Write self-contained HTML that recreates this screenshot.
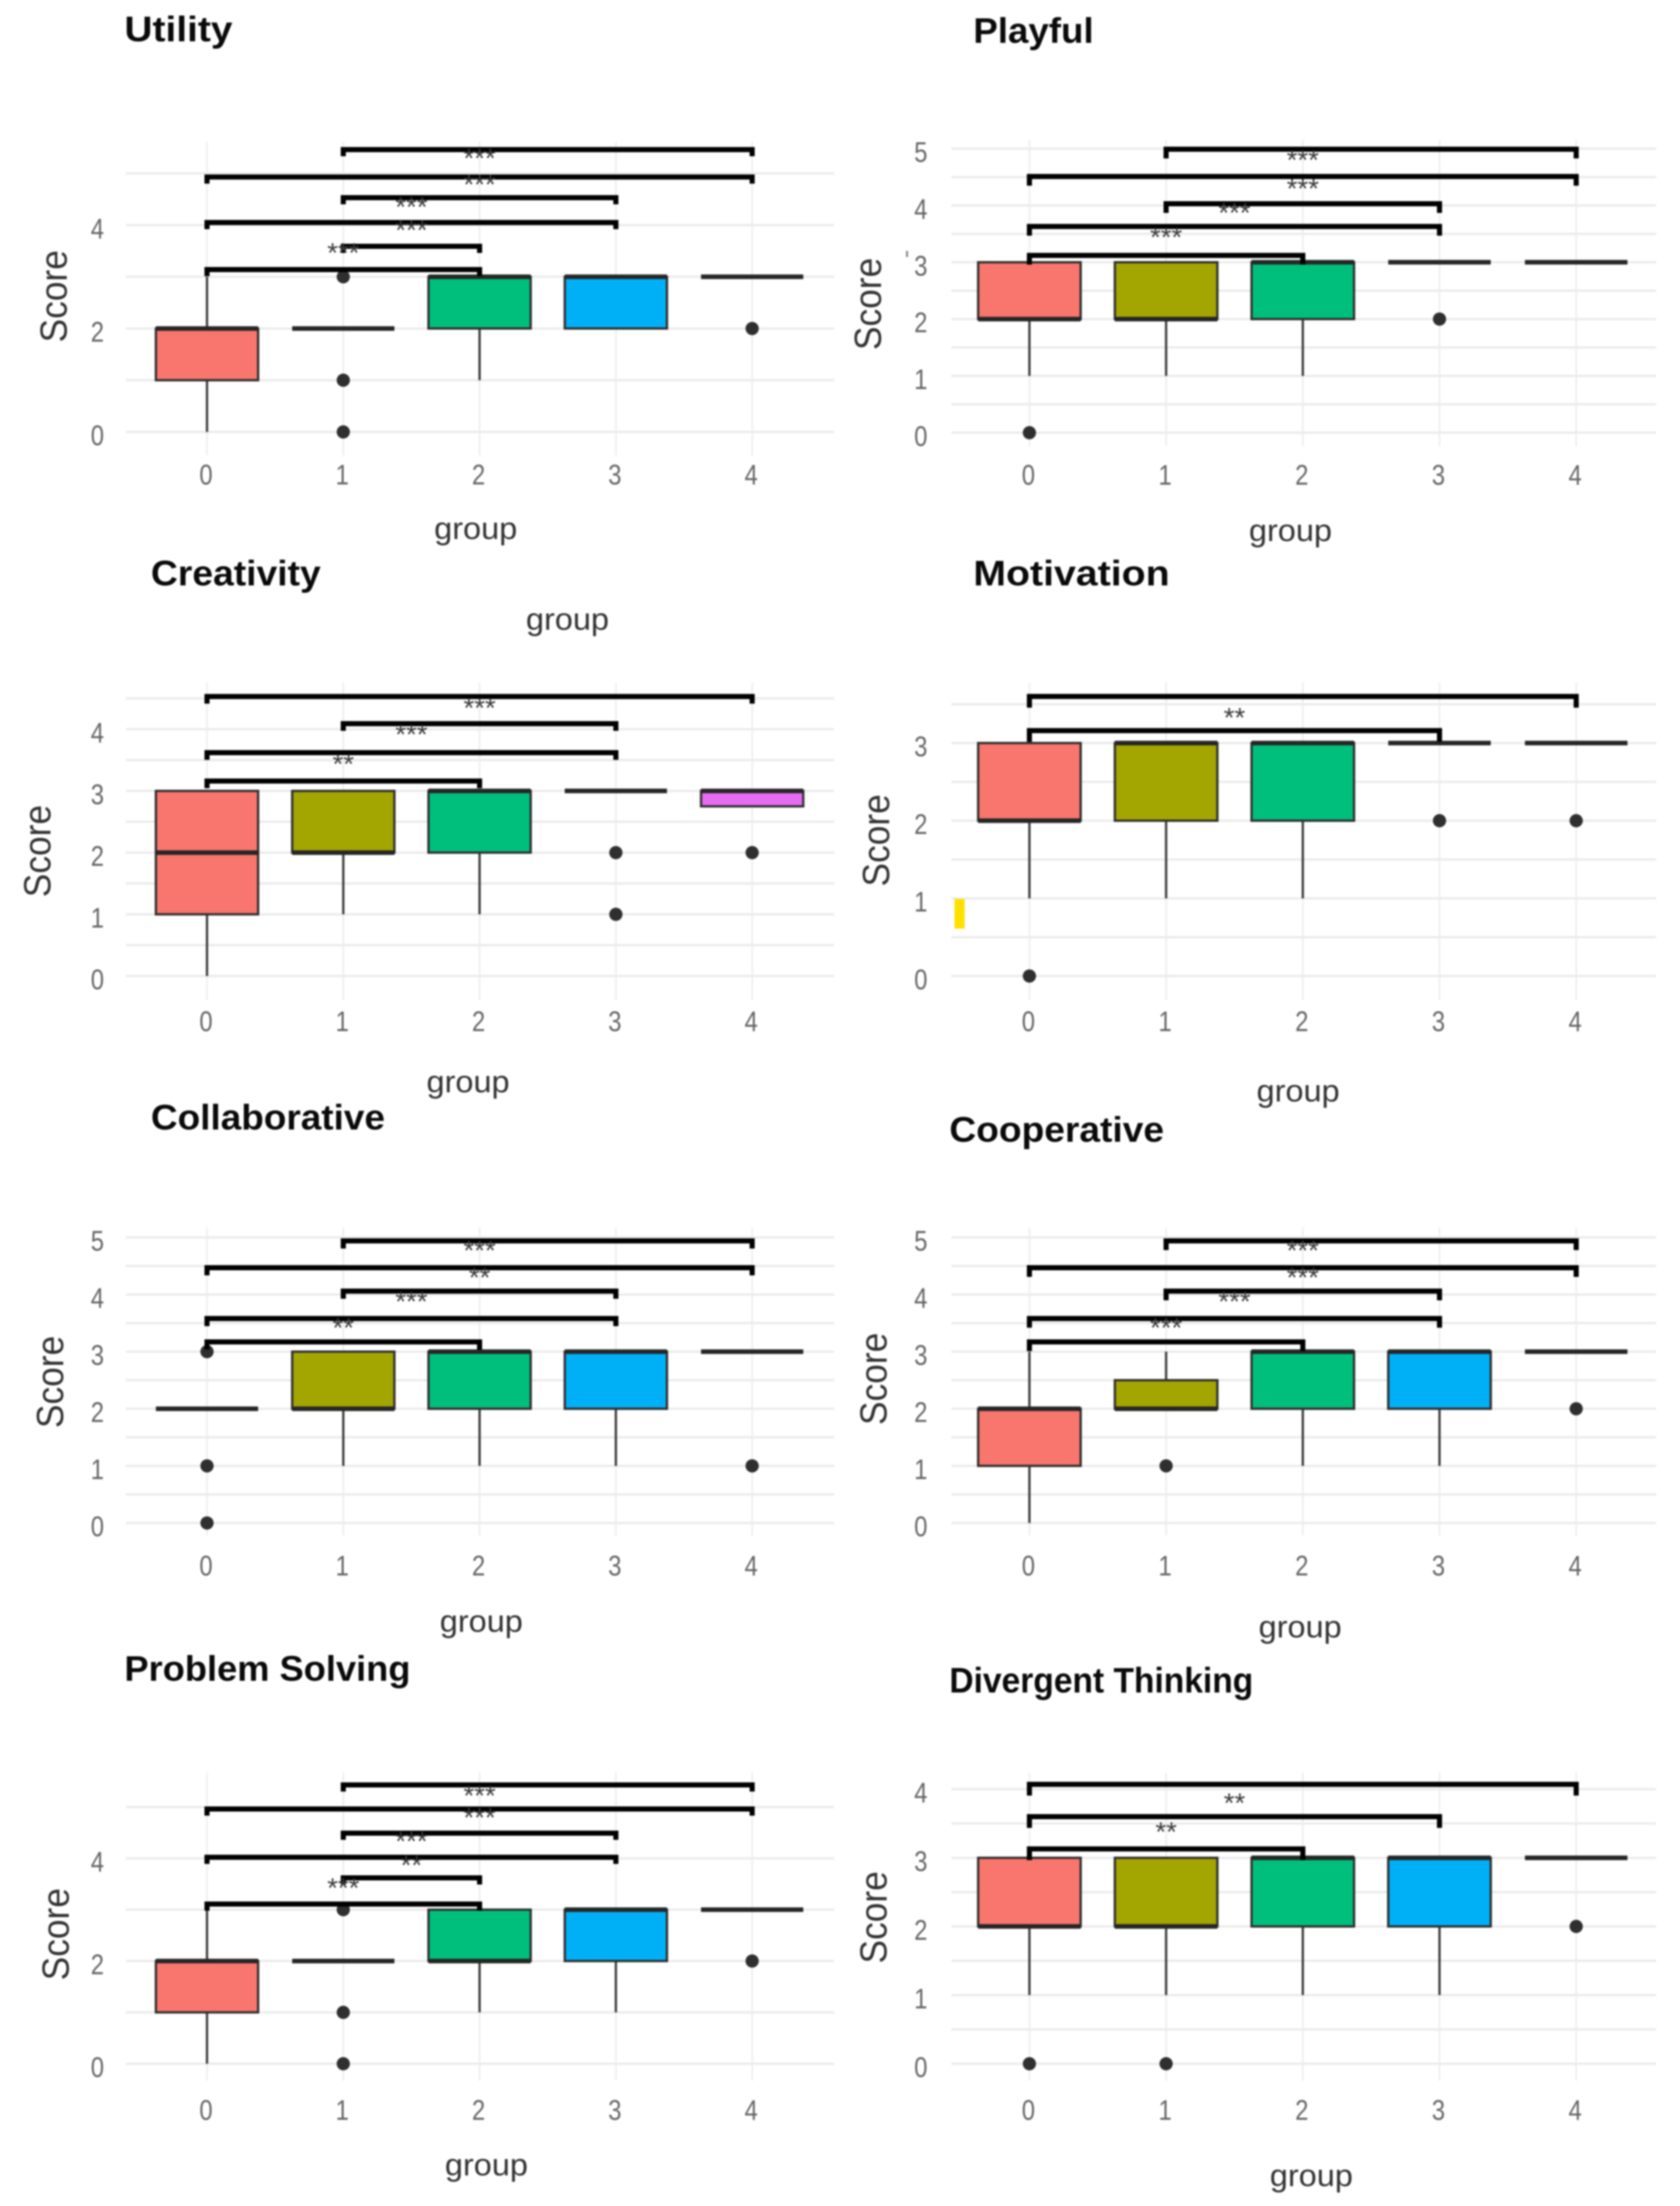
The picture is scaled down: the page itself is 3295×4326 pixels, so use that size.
<!DOCTYPE html>
<html lang="en">
<head>
<meta charset="utf-8">
<title>Score by group boxplots</title>
<style>
html,body{margin:0;padding:0;background:#fff;}
#figure{display:block;width:3295px;height:4326px;filter:blur(1.5px);}
.title{font:bold 70px "Liberation Sans",sans-serif;fill:#0a0a0a;}
.xtitle{font:60px "Liberation Sans",sans-serif;fill:#333;text-anchor:middle;}
.ytitle{font:74px "Liberation Sans",sans-serif;fill:#333;text-anchor:middle;}
.tick{font:56px "Liberation Sans",sans-serif;fill:#666;text-anchor:middle;}
.sig{font:54px "Liberation Sans",sans-serif;fill:#3a3a3a;text-anchor:middle;}
</style>
</head>
<body>
<svg id="figure" xmlns="http://www.w3.org/2000/svg" width="3295" height="4326" viewBox="0 0 3295 4326">
  <rect x="0" y="0" width="3295" height="4326" fill="#ffffff"/>
  <g id="plots"></g>

  <text class="title" x="244" y="81" textLength="212" lengthAdjust="spacingAndGlyphs">Utility</text>
  <text class="title" x="1909" y="84" textLength="236" lengthAdjust="spacingAndGlyphs">Playful</text>
  <text class="title" x="296" y="1148" textLength="333" lengthAdjust="spacingAndGlyphs">Creativity</text>
  <text class="title" x="1909" y="1148" textLength="385" lengthAdjust="spacingAndGlyphs">Motivation</text>
  <text class="title" x="296" y="2215" textLength="459" lengthAdjust="spacingAndGlyphs">Collaborative</text>
  <text class="title" x="1862" y="2239" textLength="421" lengthAdjust="spacingAndGlyphs">Cooperative</text>
  <text class="title" x="244" y="3296" textLength="561" lengthAdjust="spacingAndGlyphs">Problem Solving</text>
  <text class="title" x="1862" y="3319" textLength="596" lengthAdjust="spacingAndGlyphs">Divergent Thinking</text>

  <text class="xtitle" x="933" y="1057" textLength="163" lengthAdjust="spacingAndGlyphs">group</text>
  <text class="xtitle" x="2531" y="1061" textLength="163" lengthAdjust="spacingAndGlyphs">group</text>
  <text class="xtitle" x="1113" y="1235" textLength="163" lengthAdjust="spacingAndGlyphs">group</text>
  <text class="xtitle" x="918" y="2142" textLength="163" lengthAdjust="spacingAndGlyphs">group</text>
  <text class="xtitle" x="2546" y="2160" textLength="163" lengthAdjust="spacingAndGlyphs">group</text>
  <text class="xtitle" x="944" y="3200" textLength="163" lengthAdjust="spacingAndGlyphs">group</text>
  <text class="xtitle" x="2550" y="3211" textLength="163" lengthAdjust="spacingAndGlyphs">group</text>
  <text class="xtitle" x="954" y="4266" textLength="163" lengthAdjust="spacingAndGlyphs">group</text>
  <text class="xtitle" x="2572" y="4287" textLength="163" lengthAdjust="spacingAndGlyphs">group</text>

  <text class="ytitle" transform="translate(131,581) rotate(-90)" textLength="181" lengthAdjust="spacingAndGlyphs">Score</text>
  <text class="ytitle" transform="translate(1728,596) rotate(-90)" textLength="181" lengthAdjust="spacingAndGlyphs">Score</text>
  <text class="ytitle" transform="translate(99,1669) rotate(-90)" textLength="181" lengthAdjust="spacingAndGlyphs">Score</text>
  <text class="ytitle" transform="translate(1744,1648) rotate(-90)" textLength="181" lengthAdjust="spacingAndGlyphs">Score</text>
  <text class="ytitle" transform="translate(124,2710) rotate(-90)" textLength="181" lengthAdjust="spacingAndGlyphs">Score</text>
  <text class="ytitle" transform="translate(1739,2704) rotate(-90)" textLength="181" lengthAdjust="spacingAndGlyphs">Score</text>
  <text class="ytitle" transform="translate(135,3793) rotate(-90)" textLength="181" lengthAdjust="spacingAndGlyphs">Score</text>
  <text class="ytitle" transform="translate(1739,3760) rotate(-90)" textLength="181" lengthAdjust="spacingAndGlyphs">Score</text>

  <rect x="1872" y="1763" width="20" height="58" fill="#FFE000"/>
  <rect x="1777" y="492" width="4" height="12" fill="#888888"/>
</svg>

<script>
// Shared categories and palette
const groups = [0, 1, 2, 3, 4];
const groupColors = ['#F8766D', '#A3A500', '#00BF7D', '#00B0F6', '#E76BF3'];

// Utility
const utilityTicks = [0, 2, 4];
const utilityGrid = [0, 1, 2, 3, 4, 5];
const utilityQ1 = [1, 2, 2, 2, 3];
const utilityMedian = [2, 2, 3, 3, 3];
const utilityQ3 = [2, 2, 3, 3, 3];
const utilityLow = [0, 2, 1, 2, 3];
const utilityHigh = [3, 2, 3, 3, 3];
const utilityOutliers = [[], [0, 1, 3], [], [], [2]];
const utilityBracketFrom = [1, 0, 1, 0, 1, 0];
const utilityBracketTo = [4, 4, 3, 3, 2, 2];
const utilityBracketY = [5.46, 4.93, 4.53, 4.05, 3.59, 3.14];
const utilitySigX = [2, 2, 1.5, 1.5, 1];
const utilitySigY = [5.36, 4.85, 4.42, 3.97, 3.53];
const utilitySigText = ['***', '***', '***', '***', '***'];

// Playful
const playfulTicks = [0, 1, 2, 3, 4, 5];
const playfulGrid = [0, 0.5, 1, 1.5, 2, 2.5, 3, 3.5, 4, 4.5, 5];
const playfulQ1 = [2, 2, 2, 3, 3];
const playfulMedian = [2, 2, 3, 3, 3];
const playfulQ3 = [3, 3, 3, 3, 3];
const playfulLow = [1, 1, 1, 3, 3];
const playfulHigh = [3, 3, 3, 3, 3];
const playfulOutliers = [[0], [], [], [2], []];
const playfulBracketFrom = [1, 0, 1, 0, 0];
const playfulBracketTo = [4, 4, 3, 3, 2];
const playfulBracketY = [4.99, 4.51, 4.03, 3.63, 3.12];
const playfulSigX = [2, 2, 1.5, 1];
const playfulSigY = [4.86, 4.36, 3.93, 3.5];
const playfulSigText = ['***', '***', '***', '***'];

// Creativity
const creativityTicks = [0, 1, 2, 3, 4];
const creativityGrid = [0, 0.5, 1, 1.5, 2, 2.5, 3, 3.5, 4, 4.5];
const creativityQ1 = [1, 2, 2, 3, 2.75];
const creativityMedian = [2, 2, 3, 3, 3];
const creativityQ3 = [3, 3, 3, 3, 3];
const creativityLow = [0, 1, 1, 3, 2.75];
const creativityHigh = [3, 3, 3, 3, 3];
const creativityOutliers = [[], [], [], [1, 2], [2]];
const creativityBracketFrom = [0, 1, 0, 0];
const creativityBracketTo = [4, 3, 3, 2];
const creativityBracketY = [4.53, 4.09, 3.62, 3.16];
const creativitySigX = [2, 1.5, 1];
const creativitySigY = [4.4, 3.97, 3.49];
const creativitySigText = ['***', '***', '**'];

// Motivation
const motivationTicks = [0, 1, 2, 3];
const motivationGrid = [0, 0.5, 1, 1.5, 2, 2.5, 3, 3.5];
const motivationQ1 = [2, 2, 2, 3, 3];
const motivationMedian = [2, 3, 3, 3, 3];
const motivationQ3 = [3, 3, 3, 3, 3];
const motivationLow = [1, 1, 1, 3, 3];
const motivationHigh = [3, 3, 3, 3, 3];
const motivationOutliers = [[0], [], [], [2], [2]];
const motivationBracketFrom = [0, 0];
const motivationBracketTo = [4, 3];
const motivationBracketY = [3.6, 3.16];
const motivationSigX = [1.5];
const motivationSigY = [3.37];
const motivationSigText = ['**'];

// Collaborative
const collaborativeTicks = [0, 1, 2, 3, 4, 5];
const collaborativeGrid = [0, 0.5, 1, 1.5, 2, 2.5, 3, 3.5, 4, 4.5, 5];
const collaborativeQ1 = [2, 2, 2, 2, 3];
const collaborativeMedian = [2, 2, 3, 3, 3];
const collaborativeQ3 = [2, 3, 3, 3, 3];
const collaborativeLow = [2, 1, 1, 1, 3];
const collaborativeHigh = [2, 3, 3, 3, 3];
const collaborativeOutliers = [[0, 1, 3], [], [], [], [1]];
const collaborativeBracketFrom = [1, 0, 1, 0, 0];
const collaborativeBracketTo = [4, 4, 3, 3, 2];
const collaborativeBracketY = [4.94, 4.47, 4.06, 3.58, 3.17];
const collaborativeSigX = [2, 2, 1.5, 1];
const collaborativeSigY = [4.83, 4.36, 3.94, 3.48];
const collaborativeSigText = ['***', '**', '***', '**'];

// Cooperative
const cooperativeTicks = [0, 1, 2, 3, 4, 5];
const cooperativeGrid = [0, 0.5, 1, 1.5, 2, 2.5, 3, 3.5, 4, 4.5, 5];
const cooperativeQ1 = [1, 2, 2, 2, 3];
const cooperativeMedian = [2, 2, 3, 3, 3];
const cooperativeQ3 = [2, 2.5, 3, 3, 3];
const cooperativeLow = [0, 2, 1, 1, 3];
const cooperativeHigh = [3, 3, 3, 3, 3];
const cooperativeOutliers = [[], [1], [], [], [2]];
const cooperativeBracketFrom = [1, 0, 1, 0, 0];
const cooperativeBracketTo = [4, 4, 3, 3, 2];
const cooperativeBracketY = [4.94, 4.47, 4.06, 3.58, 3.17];
const cooperativeSigX = [2, 2, 1.5, 1];
const cooperativeSigY = [4.83, 4.36, 3.94, 3.48];
const cooperativeSigText = ['***', '***', '***', '***'];

// Problem Solving
const problemTicks = [0, 2, 4];
const problemGrid = [0, 1, 2, 3, 4, 5];
const problemQ1 = [1, 2, 2, 2, 3];
const problemMedian = [2, 2, 2, 3, 3];
const problemQ3 = [2, 2, 3, 3, 3];
const problemLow = [0, 2, 1, 1, 3];
const problemHigh = [3, 2, 3, 3, 3];
const problemOutliers = [[], [0, 1, 3], [], [], [2]];
const problemBracketFrom = [1, 0, 1, 0, 1, 0];
const problemBracketTo = [4, 4, 3, 3, 2, 2];
const problemBracketY = [5.43, 4.96, 4.49, 4.02, 3.62, 3.11];
const problemSigX = [2, 2, 1.5, 1.5, 1];
const problemSigY = [5.29, 4.86, 4.4, 3.93, 3.49];
const problemSigText = ['***', '***', '***', '**', '***'];

// Divergent Thinking
const divergentTicks = [0, 1, 2, 3, 4];
const divergentGrid = [0, 0.5, 1, 1.5, 2, 2.5, 3, 3.5, 4];
const divergentQ1 = [2, 2, 2, 2, 3];
const divergentMedian = [2, 2, 3, 3, 3];
const divergentQ3 = [3, 3, 3, 3, 3];
const divergentLow = [1, 1, 1, 1, 3];
const divergentHigh = [3, 3, 3, 3, 3];
const divergentOutliers = [[0], [0], [], [], [2]];
const divergentBracketFrom = [0, 0, 0];
const divergentBracketTo = [4, 3, 2];
const divergentBracketY = [4.07, 3.6, 3.13];
const divergentSigX = [1.5, 1];
const divergentSigY = [3.85, 3.43];
const divergentSigText = ['**', '**'];

// Panel frames (layout only)
const leftFrame = { x0: 406, step: 267.3, gridL: 247, gridR: 1636, tickX: 191 };
const rightFrame = { x0: 2019, step: 268.1, gridL: 1866, gridR: 3248, tickX: 1806 };

const panels = [
  { key: 'utility', f: leftFrame, y0: 847, unit: 101.4, top: 278, bottom: 893, tip: 13, labelDy: 103,
    ticks: utilityTicks, grid: utilityGrid, q1: utilityQ1, med: utilityMedian, q3: utilityQ3, lo: utilityLow, hi: utilityHigh, out: utilityOutliers,
    bf: utilityBracketFrom, bt: utilityBracketTo, by: utilityBracketY, sx: utilitySigX, sy: utilitySigY, st: utilitySigText },
  { key: 'playful', f: rightFrame, y0: 848.5, unit: 111.4, top: 274, bottom: 875, tip: 18, labelDy: 102,
    ticks: playfulTicks, grid: playfulGrid, q1: playfulQ1, med: playfulMedian, q3: playfulQ3, lo: playfulLow, hi: playfulHigh, out: playfulOutliers,
    bf: playfulBracketFrom, bt: playfulBracketTo, by: playfulBracketY, sx: playfulSigX, sy: playfulSigY, st: playfulSigText },
  { key: 'creativity', f: leftFrame, y0: 1914, unit: 121, top: 1339, bottom: 1961, tip: 14, labelDy: 108,
    ticks: creativityTicks, grid: creativityGrid, q1: creativityQ1, med: creativityMedian, q3: creativityQ3, lo: creativityLow, hi: creativityHigh, out: creativityOutliers,
    bf: creativityBracketFrom, bt: creativityBracketTo, by: creativityBracketY, sx: creativitySigX, sy: creativitySigY, st: creativitySigText },
  { key: 'motivation', f: rightFrame, y0: 1914, unit: 152.3, top: 1339, bottom: 1961, tip: 22, labelDy: 108,
    ticks: motivationTicks, grid: motivationGrid, q1: motivationQ1, med: motivationMedian, q3: motivationQ3, lo: motivationLow, hi: motivationHigh, out: motivationOutliers,
    bf: motivationBracketFrom, bt: motivationBracketTo, by: motivationBracketY, sx: motivationSigX, sy: motivationSigY, st: motivationSigText },
  { key: 'collaborative', f: leftFrame, y0: 2986.6, unit: 112, top: 2407, bottom: 3011, tip: 15, labelDy: 103,
    ticks: collaborativeTicks, grid: collaborativeGrid, q1: collaborativeQ1, med: collaborativeMedian, q3: collaborativeQ3, lo: collaborativeLow, hi: collaborativeHigh, out: collaborativeOutliers,
    bf: collaborativeBracketFrom, bt: collaborativeBracketTo, by: collaborativeBracketY, sx: collaborativeSigX, sy: collaborativeSigY, st: collaborativeSigText },
  { key: 'cooperative', f: rightFrame, y0: 2986.6, unit: 112, top: 2407, bottom: 3011, tip: 18, labelDy: 103,
    ticks: cooperativeTicks, grid: cooperativeGrid, q1: cooperativeQ1, med: cooperativeMedian, q3: cooperativeQ3, lo: cooperativeLow, hi: cooperativeHigh, out: cooperativeOutliers,
    bf: cooperativeBracketFrom, bt: cooperativeBracketTo, by: cooperativeBracketY, sx: cooperativeSigX, sy: cooperativeSigY, st: cooperativeSigText },
  { key: 'problem-solving', f: leftFrame, y0: 4047, unit: 100.7, top: 3476, bottom: 4080, tip: 13, labelDy: 110,
    ticks: problemTicks, grid: problemGrid, q1: problemQ1, med: problemMedian, q3: problemQ3, lo: problemLow, hi: problemHigh, out: problemOutliers,
    bf: problemBracketFrom, bt: problemBracketTo, by: problemBracketY, sx: problemSigX, sy: problemSigY, st: problemSigText },
  { key: 'divergent-thinking', f: rightFrame, y0: 4047, unit: 134.6, top: 3476, bottom: 4080, tip: 22, labelDy: 110,
    ticks: divergentTicks, grid: divergentGrid, q1: divergentQ1, med: divergentMedian, q3: divergentQ3, lo: divergentLow, hi: divergentHigh, out: divergentOutliers,
    bf: divergentBracketFrom, bt: divergentBracketTo, by: divergentBracketY, sx: divergentSigX, sy: divergentSigY, st: divergentSigText }
];

const SVG_NS = 'http://www.w3.org/2000/svg';
const BOX_HALF = 0.375;

function make(tag, parent, props) {
  const node = document.createElementNS(SVG_NS, tag);
  for (const k in props) node.setAttribute(k, props[k]);
  parent.appendChild(node);
  return node;
}

function drawPanel(p) {
  const root = document.getElementById('plots');
  const g = make('g', root, {});
  
  

  const xScale = function (v) { return p.f.x0 + v * p.f.step; };
  const yScale = function (v) { return p.y0 - v * p.unit; };

  // Horizontal grid
  p.grid.forEach(function (v) {
    const line = make('line', g, { x1: p.f.gridL, x2: p.f.gridR, y1: yScale(v), y2: yScale(v), stroke: '#ebebeb', 'stroke-width': 4.5 });
    
    
  });

  // Vertical grid and x ticks
  groups.forEach(function (c) {
    const line = make('line', g, { x1: xScale(c), x2: xScale(c), y1: p.top, y2: p.bottom, stroke: '#ececec', 'stroke-width': 3 });
    
    

    const label = make('text', g, { x: xScale(c) - 2, y: p.y0 + p.labelDy, class: 'tick', textLength: 26, lengthAdjust: 'spacingAndGlyphs' });
    label.textContent = String(c);
    
    
  });

  // Y ticks
  p.ticks.forEach(function (v) {
    const label = make('text', g, { x: p.f.tickX, y: yScale(v) + 26, class: 'tick', textLength: 26, lengthAdjust: 'spacingAndGlyphs' });
    label.textContent = String(v);
    
    
  });

  // Boxes
  groups.forEach(function (c, i) {
    const cx = xScale(c);
    const left = xScale(c - BOX_HALF);
    const right = xScale(c + BOX_HALF);

    if (p.hi[i] > p.q3[i]) {
      const up = make('line', g, { x1: cx, x2: cx, y1: yScale(p.q3[i]), y2: yScale(p.hi[i]), stroke: '#3a3a3a', 'stroke-width': 4.5 });
      
      
    }
    if (p.lo[i] < p.q1[i]) {
      const down = make('line', g, { x1: cx, x2: cx, y1: yScale(p.q1[i]), y2: yScale(p.lo[i]), stroke: '#3a3a3a', 'stroke-width': 4.5 });
      
      
    }

    const box = make('rect', g, {
      x: left, y: yScale(p.q3[i]), width: right - left,
      height: Math.max(0, yScale(p.q1[i]) - yScale(p.q3[i])),
      fill: groupColors[i], stroke: '#2e2e2e', 'stroke-width': 4.5
    });
    
    

    const median = make('line', g, { x1: left, x2: right, y1: yScale(p.med[i]), y2: yScale(p.med[i]), stroke: '#262626', 'stroke-width': 9 });
    
    

    p.out[i].forEach(function (v) {
      const dot = make('circle', g, { cx: cx, cy: yScale(v), r: 13, fill: '#2f2f2f' });
      
      
    });
  });

  // Significance brackets
  p.bf.forEach(function (from, i) {
    const xa = xScale(from);
    const xb = xScale(p.bt[i]);
    const y = yScale(p.by[i]);
    const d = 'M' + xa + ' ' + (y + p.tip) + ' L' + xa + ' ' + y + ' L' + xb + ' ' + y + ' L' + xb + ' ' + (y + p.tip);
    const bracket = make('path', g, { d: d, fill: 'none', stroke: '#000000', 'stroke-width': 10 });
    
    
  });

  p.st.forEach(function (txt, i) {
    const sig = make('text', g, { x: xScale(p.sx[i]), y: yScale(p.sy[i]) + 25, class: 'sig' });
    sig.textContent = txt;
    
    
  });
}

panels.forEach(drawPanel);
</script>
</body>
</html>
